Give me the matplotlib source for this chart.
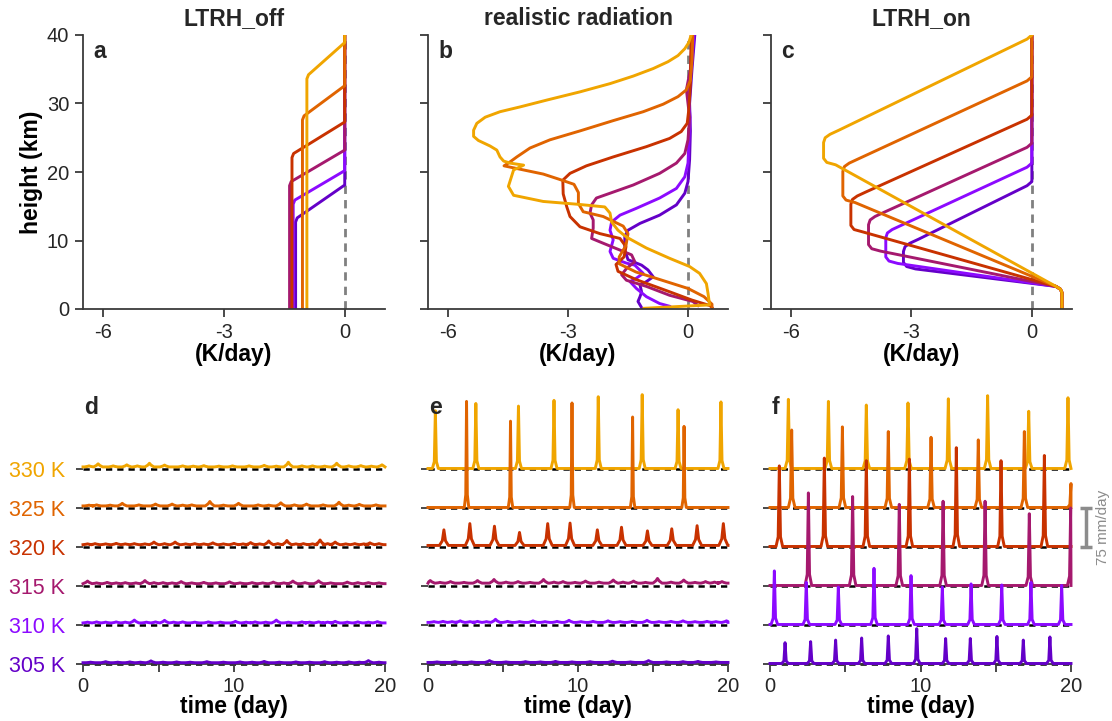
import numpy as np
import matplotlib
matplotlib.use("Agg")
import matplotlib.pyplot as plt

plt.rcParams['font.family'] = ['Liberation Sans', 'DejaVu Sans']
plt.rcParams['text.color'] = '#262626'
plt.rcParams['axes.edgecolor'] = '#3a3a3a'
plt.rcParams['xtick.color'] = '#3a3a3a'
plt.rcParams['ytick.color'] = '#3a3a3a'
plt.rcParams['xtick.labelcolor'] = '#262626'
plt.rcParams['ytick.labelcolor'] = '#262626'

temps = [305, 310, 315, 320, 325, 330]
colors = {305: '#6400c8', 310: '#8c0aff', 315: '#a5196e',
          320: '#c83200', 325: '#e06400', 330: '#f0a500'}

# ---- LTRH_off: constant cooling, linear ramp to zero aloft
off_q = {305: -1.22, 310: -1.28, 315: -1.37, 320: -1.31, 325: -1.05, 330: -0.94}
off_zlo = {305: 13.0, 310: 15.6, 315: 18.3, 320: 22.4, 325: 27.9, 330: 33.9}
off_ztop = {305: 18.1, 310: 20.2, 315: 23.2, 320: 27.3, 325: 32.6, 330: 38.9}

# ---- realistic radiation profiles (K/day, km)
rad_x = {
    305: [0.17, 0.1, 0.04, 0.06, 0.04, 0.0, -0.08, -0.29, -0.71, -1.2, -1.5, -1.58,
          -1.58, -1.5, -1.16, -1.0, -0.87, -1.04, -1.2, -1.16, -1.2, -1.25, -1.16],
    310: [0.15, 0.08, 0.0, 0.05, 0.02, 0.0, -0.08, -0.29, -0.71, -1.29, -1.7, -1.91,
          -1.95, -1.87, -1.95, -1.87, -1.54, -1.33, -1.12, -1.29, -1.45, -1.29, -1.04,
          -0.71, -0.46],
    315: [0.1, 0.06, -0.04, 0.04, 0.0, -0.08, -0.29, -0.71, -1.37, -1.95, -2.29,
          -2.41, -2.45, -2.37, -2.37, -2.41, -2.12, -1.7, -1.41, -1.33, -1.54, -1.66,
          -1.54, -1.04, -0.46, 0.12, 0.25],
    320: [0.08, 0.06, 0.02, -0.02, -0.17, -0.46, -1.04, -1.87, -2.54, -2.95, -3.13,
          -3.12, -3.03, -2.95, -2.7, -2.2, -1.7, -1.55, -1.6, -1.8, -1.75, -1.3, -0.5,
          0.1, 0.55, 0.6],
    325: [0.12, 0.1, 0.06, -0.04, -0.25, -0.62, -1.12, -1.87, -2.7, -3.45, -3.95,
          -4.28, -4.49, -4.6, -4.03, -3.62, -3.2, -2.85, -2.74, -2.74, -2.62, -2.12,
          -1.62, -1.5, -1.55, -1.72, -1.72, -1.3, -0.65, 0.0, 0.4, 0.6, 0.6],
    330: [0.08, 0.02, -0.08, -0.25, -0.5, -0.87, -1.37, -1.95, -2.7, -3.53, -4.2,
          -4.7, -5.07, -5.28, -5.36, -5.36, -5.24, -4.95, -4.78, -4.7, -4.61, -4.45,
          -4.11, -4.36, -4.49, -4.36, -3.62, -2.78, -2.08, -1.95, -1.91, -1.75, -1.54,
          -1.04, -0.46, 0.04, 0.29, 0.46, 0.5, 0.54, -1.1],
}
rad_z = {
    305: [40, 35, 30, 26, 21.8, 18.6, 16.9, 15.2, 13.7, 12.5, 11.5, 10.6, 8.6,
          7.2, 6.4, 5.7, 4.7, 4.0, 3.5, 2.5, 1.8, 1.1, 0.2],
    310: [40, 35, 32, 28, 24, 21.3, 19.3, 17.6, 16.2, 14.7, 13.7, 12.7, 11.5,
          10.1, 8.4, 7.4, 6.7, 6.4, 5.2, 4.5, 4.0, 3.0, 1.8, 0.8, 0.4],
    315: [40, 35, 32, 28, 24.7, 22.7, 21.3, 19.8, 18.1, 16.9, 16.2, 15.2, 14.0,
          13.0, 11.8, 10.3, 9.6, 8.6, 7.9, 6.9, 5.9, 5.0, 4.2, 3.3, 2.0, 1.1, 0.5],
    320: [40, 32.9, 29.1, 27.1, 25.9, 24.9, 23.7, 22.2, 20.9, 19.8, 18.8, 16.8,
          14.9, 13.5, 12.0, 11.0, 10.3, 9.1, 7.6, 6.5, 5.5, 4.3, 2.6, 1.3, 0.5, 0.2],
    325: [40, 36.3, 33.4, 32.0, 31.0, 29.9, 28.8, 27.5, 26.0, 24.7, 23.5, 22.2,
          21.3, 20.9, 20.2, 19.7, 18.9, 18.2, 17.0, 15.4, 14.2, 13.5, 12.1, 11.0,
          9.3, 7.6, 6.6, 5.4, 4.2, 3.0, 1.8, 0.7, 0.3],
    330: [40, 38.9, 38.0, 37.0, 36.1, 35.1, 34.0, 32.9, 31.7, 30.5, 29.5, 28.8,
          28.0, 27.1, 26.1, 25.2, 24.6, 23.8, 23.2, 22.2, 21.6, 21.3, 21.0, 20.3,
          17.9, 16.6, 15.7, 15.3, 14.9, 14.0, 12.7, 11.5, 10.5, 8.9, 7.4, 6.2, 5.2,
          3.7, 2.3, 0.6, 0.1],
}

# ---- LTRH_on: surface heating, cooling plateau, ramp to zero aloft
on_qsfc = 0.75
on_qmin = {305: -3.2, 310: -3.64, 315: -4.07, 320: -4.51, 325: -4.71, 330: -5.19}
on_zlo = {305: 6.4, 310: 7.2, 315: 9.0, 320: 11.8, 325: 16.1, 330: 21.6}
on_zhi = {305: 8.8, 310: 10.8, 315: 12.7, 320: 15.7, 325: 20.5, 330: 24.7}
on_ztop = {305: 18.6, 310: 21.3, 315: 24.2, 320: 28.3, 325: 33.9, 330: 40.0}

# ---- precipitation time series (mm/day); spikes given as time (day) and peak
offset = {305: 0, 310: 75, 315: 150, 320: 225, 325: 300, 330: 375}

d_level = {330: 4, 325: 4, 320: 4.5, 315: 4.5, 310: 4, 305: 2.5}
d_t = {
    330: [0.4, 1.0, 2.0, 2.9, 3.6, 4.4, 5.4, 6.6, 7.3, 8.0, 9.0, 9.9, 11.0, 12.0,
          12.8, 13.6, 14.5, 15.2, 16.0, 16.8, 17.6, 18.4, 19.1, 19.8],
    325: [0.4, 0.9, 1.8, 2.6, 3.7, 4.8, 5.9, 6.6, 7.2, 8.4, 9.3, 10.3, 11.6, 12.3,
          13.1, 14.0, 14.8, 15.9, 16.95, 17.6, 18.3, 19.4],
    320: [0.3, 0.8, 1.5, 2.2, 2.8, 3.4, 4.1, 4.7, 5.4, 6.1, 6.8, 7.4, 8.0, 8.6,
          9.3, 10.0, 10.6, 11.1, 11.7, 12.3, 12.9, 13.5, 14.1, 14.6, 15.2, 15.7,
          16.2, 16.7, 17.4, 18.0, 18.6, 19.0, 19.6],
    315: [0.3, 0.9, 1.6, 2.2, 2.8, 3.5, 4.1, 4.7, 5.3, 5.9, 6.5, 7.2, 8.0, 8.8,
          9.7, 10.4, 11.2, 11.9, 12.6, 13.3, 13.9, 14.7, 15.6, 16.4, 17.5, 18.2,
          18.9, 19.6],
    310: [0.3, 0.9, 1.5, 2.2, 2.8, 3.4, 4.2, 4.8, 5.4, 6.0, 6.6, 7.4, 8.3, 9.1,
          10.1, 10.8, 11.4, 12.1, 12.8, 13.6, 14.5, 15.0, 15.6, 16.2, 16.7, 17.5,
          18.2, 18.9, 19.5],
    305: [0.5, 1.5, 2.3, 3.1, 3.8, 4.5, 5.3, 6.2, 7.1, 8.2, 9.3, 10.4, 11.2, 12.0,
          13.0, 14.1, 15.0, 16.0, 16.8, 17.6, 18.3, 18.9, 19.6],
}
d_h = {
    330: [2, 6, 2, 4, 2, 7, 3.5, 2, 1.5, 2.5, 1.5, 2, 2, 3, 1.5, 9, 2, 2, 1.5,
          7, 2, 2.5, 1.5, 4],
    325: [1.5, 2, 1.5, 5, 2, 3.5, 3.5, 1.5, 2, 8.5, 1.5, 5, 2, 1.5, 6, 2, 3.5, 2,
          7, 1.5, 3, 2],
    320: [1.5, 2, 1.5, 2.5, 1.5, 2, 1.5, 5, 2, 5, 1.5, 2, 1.5, 3.5, 1.5, 2.5,
          1.5, 4, 1.5, 7, 2, 8, 1.5, 2, 1.5, 9, 2, 5, 1.5, 2, 1.5, 3.5, 2],
    315: [5, 1.5, 2.5, 1.5, 2, 1.5, 6, 2, 2, 1.5, 4, 1.5, 2.5, 1.5, 3.5, 1.5, 2,
          1.5, 3, 1.5, 5, 2, 5.5, 1.5, 3, 2, 2, 1.5],
    310: [1.5, 2, 1.5, 2, 1.5, 5.5, 1.5, 2, 5, 1.5, 2, 1.5, 2, 1.5, 3, 1.5, 2,
          1.5, 5.5, 1.5, 2, 1.5, 2, 1.5, 3, 1.5, 2, 1.5, 2.5],
    305: [1, 2, 1, 1.5, 1, 3.5, 1, 1.5, 1, 2, 1, 1.5, 1, 2.5, 1, 1.5, 1, 2, 1,
          1.5, 1, 4, 1],
}

e_level = {330: 1, 325: 1, 320: 3, 315: 5.5, 310: 5, 305: 3}
e_t = {
    330: [0.49, 3.19, 6.03, 8.4, 11.35, 14.28, 16.67, 19.53],
    325: [2.57, 5.5, 9.6, 13.64, 17.07],
    320: [1.06, 2.79, 4.43, 6.1, 7.98, 9.47, 11.29, 12.9, 14.63, 16.25, 17.94, 19.69],
    315: [0.15, 0.8, 1.5, 2.4, 3.3, 4.4, 5.2, 6.0, 6.8, 7.7, 8.4, 9.0, 9.8, 10.5,
          11.4, 12.35, 13.0, 13.7, 14.5, 15.3, 16.2, 17.05, 17.8, 18.5, 19.1, 19.6],
    310: [0.4, 1.0, 1.6, 2.15, 2.8, 3.3, 3.9, 4.5, 5.3, 6.1, 7.0, 7.8, 8.6, 9.4,
          10.2, 11.0, 12.0, 12.8, 13.6, 14.6, 15.4, 16.2, 17.0, 17.8, 18.6, 19.2, 19.9],
    305: [0.6, 1.8, 2.9, 4.1, 5.2, 6.5, 7.5, 8.5, 9.6, 10.8, 12.3, 13.5, 14.7,
          15.9, 17.0, 18.0, 19.2],
}
e_h = {
    330: [111, 125, 120, 131, 138, 142, 113, 128],
    325: [204, 166, 201, 174, 156],
    320: [30, 42, 37, 25, 42, 43, 30, 35, 28, 32, 38, 42],
    315: [5, 1.5, 3, 1.5, 5, 7, 2, 3, 1.5, 7, 2, 3, 1.5, 4, 2, 6, 2, 4, 1.5, 9,
          2, 6, 1.5, 3, 2, 3],
    310: [1.5, 2, 1.5, 3, 1.5, 2, 1.5, 6, 2, 1.5, 3, 1.5, 2, 4, 1.5, 2, 3, 1.5,
          2, 4, 1.5, 2, 3, 1.5, 2, 1.5, 3],
    305: [1, 1.5, 1, 3.5, 1, 1.5, 1, 2, 1, 1.5, 2.5, 1, 3.5, 1, 1.5, 2, 1],
}

f_t = {
    330: [1.22, 3.88, 6.40, 9.17, 11.85, 14.46, 17.19, 19.8],
    325: [1.44, 4.81, 7.86, 10.70, 13.84, 16.9, 20.0],
    320: [0.62, 3.61, 6.40, 9.26, 12.38, 15.35, 18.23],
    315: [2.55, 5.49, 8.59, 11.5, 14.29, 17.23, 19.98],
    310: [0.29, 2.41, 4.54, 6.91, 9.37, 11.45, 13.36, 15.4, 17.34, 19.38],
    305: [1.0, 2.70, 4.36, 6.09, 7.86, 9.75, 11.67, 13.31, 15.08, 16.83, 18.6],
}
f_h = {
    330: [133, 129, 122, 126, 134, 140, 110, 136],
    325: [149, 155, 146, 135, 130, 146, 46],
    320: [155, 170, 165, 168, 190, 165, 175],
    315: [178, 171, 156, 162, 162, 138, 149],
    310: [103, 81, 72, 108, 94, 72, 78, 76, 81, 75],
    305: [40, 42, 45, 49, 53, 67, 48, 48, 52, 45, 51],
}


def spikes(times, heights, width, level=0.0, shoulder=0.12):
    """Polyline with a narrow peak at each (time, height) over a flat level."""
    x, y = [0.0], [level]
    for t, h in sorted(zip(times, heights)):
        x += [t - width, t - width * 0.35, t, t + width * 0.35, t + width]
        y += [level, level + shoulder * h, level + h, level + shoulder * h, level]
    x.append(20.0)
    y.append(level)
    x = np.clip(np.array(x), 0, 20)
    return x, np.array(y)


fig = plt.figure(figsize=(11.12, 7.21), dpi=100)
W, H = 1112, 721


def px_axes(left, top, right, bottom):
    return fig.add_axes([left / W, 1 - bottom / H, (right - left) / W, (bottom - top) / H])


ax_a = px_axes(83, 35, 385, 309)
ax_b = px_axes(428, 35, 728, 309)
ax_c = px_axes(771, 35, 1072, 309)
ax_d = px_axes(83, 391, 385, 664)
ax_e = px_axes(428, 391, 728, 664)
ax_f = px_axes(770, 391, 1071, 664)

lab_fs = 16.5
tick_fs = 14.5
lw_prof = 2.1
for ax in (ax_a, ax_b, ax_c):
    ax.plot([0, 0], [0, 40], ls=(0, (3, 2.2)), color='#808080', lw=2, zorder=1)

for T in temps:
    q, z1, z2 = off_q[T], off_zlo[T], off_ztop[T]
    ax_a.plot([q, q, q + 0.04, 0, 0], [0, z1 - 0.3, z1 + 0.3, z2, 40],
              color=colors[T], lw=lw_prof, zorder=2)
    ax_b.plot(rad_x[T], rad_z[T], color=colors[T], lw=lw_prof, zorder=2)
    qm, zl, zh, zt = on_qmin[T], on_zlo[T], on_zhi[T], on_ztop[T]
    xs = [on_qsfc, on_qsfc, on_qsfc - 0.04, on_qsfc - 0.15,
          qm + 0.3, qm + 0.08, qm, qm,
          qm + 0.04, qm + 0.16, qm + 0.38, -0.12, -0.03, 0, 0]
    zs = [0, 2.4, 2.9, 3.3,
          zl - 0.55, zl - 0.2, zl + 0.4, zh - 0.4,
          zh + 0.3, zh + 0.8, zh + 1.4, zt - 0.6, zt - 0.15, zt, 40]
    ax_c.plot(xs, zs, color=colors[T], lw=lw_prof, zorder=2)

titles = ['LTRH_off', 'realistic radiation', 'LTRH_on']
for ax, title, letter in zip((ax_a, ax_b, ax_c), titles, 'abc'):
    ax.set_xlim(-6.5, 1)
    ax.set_ylim(0, 40)
    ax.set_xticks([-6, -3, 0])
    ax.set_xticklabels(['-6', '-3', '0'])
    ax.set_yticks([0, 10, 20, 30, 40])
    ax.spines[['top', 'right']].set_visible(False)
    ax.spines[['left', 'bottom']].set_linewidth(1.3)
    ax.tick_params(length=6, width=1.3, labelsize=tick_fs, pad=4)
    ax.set_title(title, fontsize=lab_fs, fontweight='bold', pad=7)
    ax.set_xlabel('(K/day)', fontsize=lab_fs, fontweight='bold', labelpad=1)
    ax.text(0.035, 0.94, letter, transform=ax.transAxes, fontsize=lab_fs,
            fontweight='bold', ha='left', va='center')
ax_a.set_ylabel('height (km)', fontsize=lab_fs, fontweight='bold', labelpad=3)
ax_b.set_yticklabels([])
ax_c.set_yticklabels([])

# ---- bottom row: stacked precipitation time series
for ax in (ax_d, ax_e, ax_f):
    for T in temps:
        ax.plot([0, 20], [offset[T], offset[T]], color='black', lw=1.8,
                ls=(0, (2.5, 2)), zorder=1, clip_on=False)

for i, T in enumerate(reversed(temps)):
    z = 3 + i
    x, y = spikes(d_t[T], d_h[T], 0.3, d_level[T], shoulder=0.5)
    ax_d.plot(x, y + offset[T], color=colors[T], lw=2.1, zorder=z, clip_on=False)

    if T in (330, 325):
        x, y = spikes(e_t[T], e_h[T], 0.15 if T == 325 else 0.2, e_level[T])
    elif T == 320:
        x, y = spikes(e_t[T], e_h[T], 0.3, e_level[T], shoulder=0.3)
    else:
        x, y = spikes(e_t[T], e_h[T], 0.3, e_level[T], shoulder=0.5)
    ax_e.plot(x, y + offset[T], color=colors[T], lw=2.1, zorder=z, clip_on=False)

    x, y = spikes(f_t[T], f_h[T], 0.22, 1.0)
    ax_f.plot(x, y + offset[T], color=colors[T], lw=2.1, zorder=z, clip_on=False)

for ax, letter in zip((ax_d, ax_e, ax_f), 'def'):
    ax.set_xlim(0, 20)
    ax.set_ylim(0, 525)
    ax.set_xticks([0, 5, 10, 15, 20])
    ax.set_xticklabels(['0', '', '10', '', '20'])
    ax.set_yticks([offset[T] for T in temps])
    ax.set_yticklabels([])
    ax.spines[['top', 'right', 'left']].set_visible(False)
    ax.spines['bottom'].set_linewidth(1.3)
    ax.tick_params(axis='x', length=6, width=1.3, labelsize=tick_fs, pad=3)
    ax.tick_params(axis='y', length=5, width=1.3)
    ax.set_xlabel('time (day)', fontsize=lab_fs, fontweight='bold', labelpad=0)
    ax.text(0.005, 0.94, letter, transform=ax.transAxes, fontsize=lab_fs,
            fontweight='bold', ha='left', va='center')

ax_d.set_yticklabels([f'{T} K' for T in temps], fontsize=15.5)
ax_d.tick_params(axis='y', pad=8)
for lab, T in zip(ax_d.get_yticklabels(), temps):
    lab.set_color(colors[T])

# scale bar for the precipitation axis
ax_f.plot([21.0, 21.0], [offset[320], offset[325]], color='#8c8c8c', lw=2.5,
          clip_on=False, solid_capstyle='butt')
ax_f.plot([21.0, 21.0], [offset[320], offset[325]], ls='none', marker='_',
          ms=9, mew=2.5, color='#8c8c8c', clip_on=False)
ax_f.text(22.15, 263, '75 mm/day', rotation=90, color='#8c8c8c', fontsize=11,
          ha='center', va='center')

fig.savefig('out.png', dpi=100)
